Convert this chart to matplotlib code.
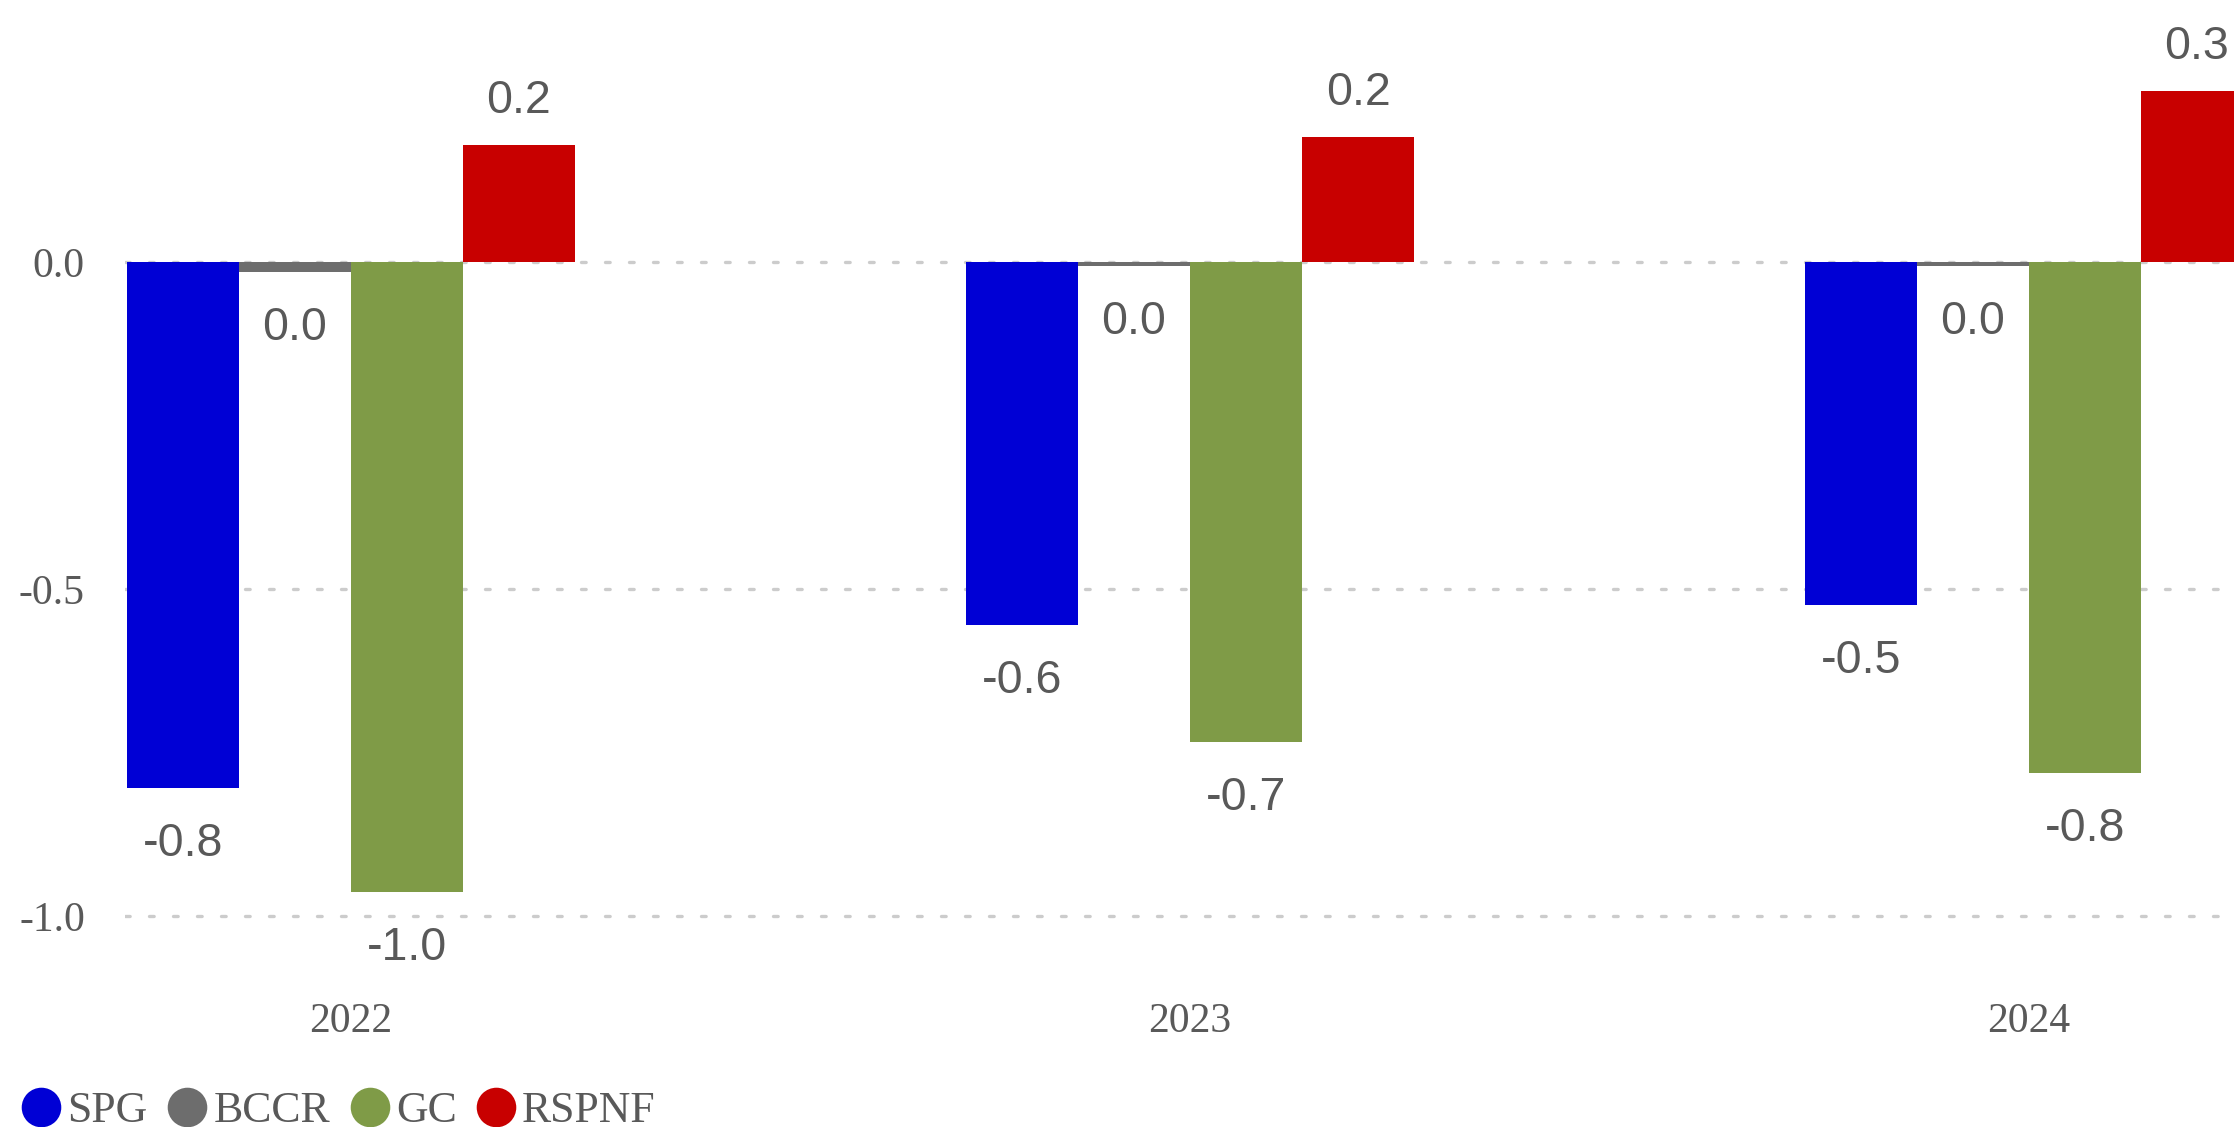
import matplotlib
matplotlib.use("Agg")
import matplotlib.pyplot as plt
from matplotlib.lines import Line2D
import numpy as np

years = ["2022", "2023", "2024"]
series = ["SPG", "BCCR", "GC", "RSPNF"]
spg = [-0.804, -0.555, -0.525]
bccr = [-0.015, -0.006, -0.006]
gc = [-0.963, -0.734, -0.782]
rspnf = [0.179, 0.191, 0.261]
colors = ["#0000d5", "#6d6d6d", "#7f9b47", "#c80000"]
yticks = [-1.0, -0.5, 0.0]

plt.rcParams["lines.dash_capstyle"] = "round"
W, H, DPI = 2234, 1127, 100
fig = plt.figure(figsize=(W / DPI, H / DPI), dpi=DPI)
ax = fig.add_axes([125 / W, 1 - 950 / H, 1 - 125 / W, 950 / H])

txt_gray = "#595959"
serif = "Liberation Serif"
sans = "Liberation Sans"

x = np.arange(len(years))
w = 112 / 839
values = [spg, bccr, gc, rspnf]
for i, (name, vals, c) in enumerate(zip(series, values, colors)):
    pos = x + (i - 1.5) * w
    ax.bar(pos, vals, width=w, color=c, label=name, zorder=2, linewidth=0)
    for px, v in zip(pos, vals):
        s = f"{v:.1f}"
        if s == "-0.0":
            s = "0.0"
        off = 31.7 if v > 0 else -40.3
        ax.annotate(s, (px, v), xytext=(0, off), textcoords="offset points",
                    ha="center", va="center", fontsize=33.5, color=txt_gray,
                    family=sans)

ax.set_xlim(-(351 - 125) / 839, (2234 - 351) / 839)
ax.set_ylim(-(950 - 262) / 654, 262 / 654)
ax.set_yticks(yticks)
ax.set_yticklabels([f"{t:.1f}" for t in yticks], family=serif, fontsize=30, color=txt_gray)
ax.set_xticks(x)
ax.set_xticklabels(years, family=serif, fontsize=30, color=txt_gray)
ax.tick_params(axis="both", length=0)
ax.tick_params(axis="y", pad=28.8)
ax.tick_params(axis="x", pad=38)
for sp in ax.spines.values():
    sp.set_visible(False)
ax.set_axisbelow(True)
ax.yaxis.grid(True, color="#cccccc", linewidth=2.4, linestyle=(0, (1.4, 5.8)))
ax.xaxis.grid(False)

handles = [Line2D([], [], marker="o", linestyle="none", markersize=28.5,
                  markerfacecolor=c, markeredgewidth=0) for c in colors]
fig.legend(handles, series, loc="center left", bbox_to_anchor=(19.5 / W, (H - 1111) / H),
           ncol=4, frameon=False, borderpad=0, borderaxespad=0, handlelength=1.0,
           handletextpad=0.1, columnspacing=0.4,
           prop={"family": serif, "size": 31.5}, labelcolor=txt_gray)

fig.savefig("out.png", dpi=DPI)
